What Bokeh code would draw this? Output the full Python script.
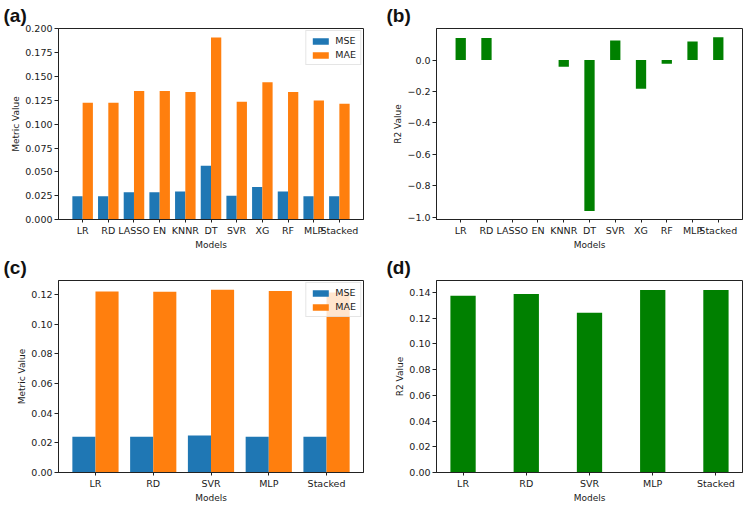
import numpy as np
from bokeh.plotting import figure
from bokeh.layouts import gridplot
from bokeh.models import Range1d, FixedTicker, Legend, LegendItem
from bokeh.embed import file_html
from bokeh.resources import INLINE

# ---------------- data ----------------
models_all = ["LR", "RD", "LASSO", "EN", "KNNR", "DT", "SVR", "XG", "RF", "MLP", "Stacked"]
mse_all = [0.0245, 0.0245, 0.0285, 0.0285, 0.0295, 0.0563, 0.0249, 0.0342, 0.0295, 0.0245, 0.0244]
mae_all = [0.1225, 0.1225, 0.1350, 0.1350, 0.1338, 0.1910, 0.1235, 0.1442, 0.1338, 0.1248, 0.1215]
r2_all = [0.140, 0.140, 0.0, 0.0, -0.043, -0.960, 0.124, -0.183, -0.024, 0.118, 0.146]

models_sel = ["LR", "RD", "SVR", "MLP", "Stacked"]
mse_sel = [0.0242, 0.0242, 0.0249, 0.0242, 0.0242]
mae_sel = [0.1221, 0.1220, 0.1233, 0.1225, 0.1215]
r2_sel = [0.1375, 0.1388, 0.1244, 0.1420, 0.1420]

ticks_a = [0.0, 0.025, 0.05, 0.075, 0.1, 0.125, 0.15, 0.175, 0.2]
ticks_b = [-1.0, -0.8, -0.6, -0.4, -0.2, 0.0]
ticks_b_labels = ["\u22121.0", "\u22120.8", "\u22120.6", "\u22120.4", "\u22120.2", "0.0"]
ticks_c = [0.0, 0.02, 0.04, 0.06, 0.08, 0.10, 0.12]
ticks_d = [0.0, 0.02, 0.04, 0.06, 0.08, 0.10, 0.12, 0.14]

BLUE = "#1f77b4"
ORANGE = "#ff7f0e"
GREEN = "#008000"
TXT = "#1a1a1a"
FONT = "DejaVu Sans"


def style(p, xlabels, ylabel, yticks, ylabels=None, yfmt="{:.3f}"):
    p.outline_line_color = "#222222"
    p.outline_line_width = 1
    p.xgrid.visible = False
    p.ygrid.visible = False
    p.xaxis.ticker = FixedTicker(ticks=list(range(len(xlabels))))
    p.xaxis.major_label_overrides = {i: s for i, s in enumerate(xlabels)}
    p.yaxis.ticker = FixedTicker(ticks=yticks)
    if ylabels is None:
        ylabels = [yfmt.format(t) for t in yticks]
    p.yaxis.major_label_overrides = {t: s for t, s in zip(yticks, ylabels)}
    for ax in (p.xaxis[0], p.yaxis[0]):
        ax.axis_line_color = "#222222"
        ax.major_tick_in = 0
        ax.major_tick_out = 4
        ax.major_tick_line_color = "#222222"
        ax.minor_tick_line_color = None
        ax.major_label_text_font = FONT
        ax.major_label_text_font_size = "9.5px"
        ax.major_label_text_color = TXT
        ax.major_label_text_line_height = 0.9
        ax.axis_label_text_font = FONT
        ax.axis_label_text_font_size = "9px"
        ax.axis_label_text_font_style = "normal"
        ax.axis_label_text_color = TXT
        ax.axis_label_text_line_height = 0.9
        ax.major_label_standoff = 2
        ax.axis_label_standoff = 1
    p.xaxis.major_tick_out = 3
    p.xaxis.axis_label = "Models"
    p.yaxis.axis_label = ylabel


def make_fig(w, h, bl, br, bt, bb, xr, yr, letter, off):
    p = figure(width=w, height=h, output_backend="svg", toolbar_location=None,
               x_range=Range1d(*xr), y_range=Range1d(*yr),
               min_border_left=bl, min_border_right=br, min_border_top=bt, min_border_bottom=bb)
    p.background_fill_color = "white"
    p.border_fill_color = "white"
    p.title.text = letter
    p.title.align = "left"
    p.title.offset = off
    p.title.standoff = 5
    p.title.text_font = "Liberation Sans"
    p.title.text_font_style = "bold"
    p.title.text_font_size = "19px"
    p.title.text_color = "#111111"
    return p


def grouped(p, xlabels, a, b, w=0.4):
    xs = np.arange(len(xlabels))
    r1 = p.vbar(x=xs - w / 2, top=a, bottom=0, width=w, fill_color=BLUE, line_color=None)
    r2 = p.vbar(x=xs + w / 2, top=b, bottom=0, width=w, fill_color=ORANGE, line_color=None)
    leg = Legend(items=[LegendItem(label="MSE", renderers=[r1]), LegendItem(label="MAE", renderers=[r2])],
                 location="top_right", label_text_font=FONT, label_text_font_size="9.5px",
                 label_text_color=TXT, glyph_width=20, glyph_height=8, label_height=10,
                 label_standoff=5, spacing=3, padding=4, margin=2,
                 border_line_color="#cccccc", background_fill_alpha=0.8)
    p.add_layout(leg, "center")


def single(p, xlabels, vals, w=0.4):
    xs = np.arange(len(xlabels))
    p.vbar(x=xs, top=vals, bottom=0, width=w, fill_color=GREEN, line_color=None)


n_all = len(models_all)
n_sel = len(models_sel)

# (a)
pa = make_fig(373, 252, 58, 10, 28, 26, (-0.94, n_all - 1 + 0.94), (0.0, 0.2005), "(a)", -55)
grouped(pa, models_all, mse_all, mae_all)
style(pa, models_all, "Metric Value", ticks_a, yfmt="{:.3f}")

# (b)
pb = make_fig(373, 252, 63, 4, 28, 26, (-0.94, n_all - 1 + 0.94), (-1.014, 0.201), "(b)", -50)
single(pb, models_all, r2_all)
style(pb, models_all, "R2 Value", ticks_b, ylabels=ticks_b_labels)

# (c)
pc = make_fig(373, 253, 58, 10, 27, 26, (-0.64, n_sel - 1 + 0.64), (0.0, 0.1296), "(c)", -55)
grouped(pc, models_sel, mse_sel, mae_sel)
style(pc, models_sel, "Metric Value", ticks_c, yfmt="{:.2f}")

# (d)
pd_ = make_fig(373, 253, 63, 4, 27, 26, (-0.42, n_sel - 1 + 0.42), (0.0, 0.1494), "(d)", -50)
single(pd_, models_sel, r2_sel)
style(pd_, models_sel, "R2 Value", ticks_d, yfmt="{:.2f}")

grid = gridplot([[pa, pb], [pc, pd_]], toolbar_location=None)

open("out.html", "w").write(file_html(grid, INLINE))
